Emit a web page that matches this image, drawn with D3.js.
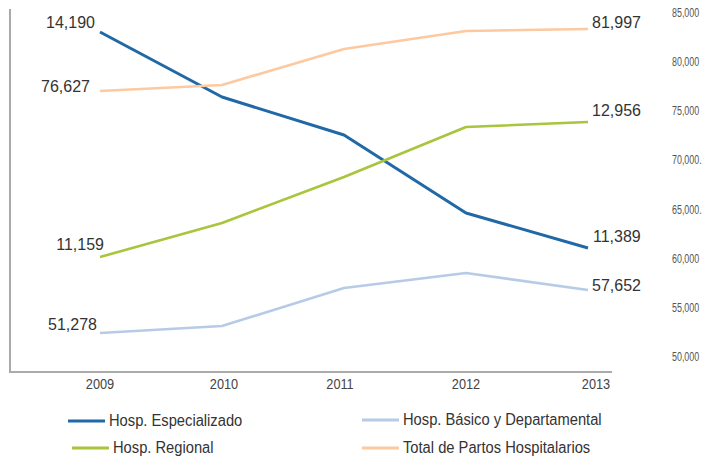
<!DOCTYPE html>
<html><head><meta charset="utf-8">
<script src="https://cdn.jsdelivr.net/npm/d3@7"></script>
<style>
html,body{margin:0;padding:0;background:#fff;}
svg{display:block;font-family:"Liberation Sans",Arial,Helvetica,sans-serif;}
</style></head>
<body><svg id="c" width="702" height="459"></svg>
<script>
// ---- data ----
const years = ["2009", "2010", "2011", "2012", "2013"];
const especializado = [14190, 13347, 12854, 11843, 11389];
const regional = [11159, 11612, 12224, 12889, 12956];
const basico = [51278, 52316, 57949, 60172, 57652];
const total = [76627, 77147, 80265, 81824, 81997];
const rightTickValues = [85000, 80000, 75000, 70000, 65000, 60000, 55000, 50000];
const rightTickLabels = ["85,000", "80,000", "75,000", "70,000.", "65,000.", "60,000", "55,000", "50,000"];
const seriesNames = ["Hosp. Especializado", "Hosp. Regional", "Hosp. Básico y Departamental", "Total de Partos Hospitalarios"];

// ---- layout / style ----
const svg = d3.select("#c");
const fmt = d3.format(",");
const x = d3.scalePoint().domain(years).range([100, 588]);
const yRight = d3.scaleLinear().domain([50000, 85000]).range([357, 13]);

const series = [
  {name: seriesNames[0], values: especializado, color: "#2069a6", width: 3,   range: [32, 248],  lab: [[-5, -10], [5, -12]]},
  {name: seriesNames[1], values: regional,      color: "#a9c43d", width: 2.6, range: [257, 122], lab: [[4, -13], [4, -12]]},
  {name: seriesNames[2], values: basico,        color: "#b7cbe6", width: 2.6, range: [333, 290], lab: [[-3, -9], [4, -5]]},
  {name: seriesNames[3], values: total,         color: "#fdc9a0", width: 2.6, range: [91, 29],   lab: [[-10, -5], [4, -7]]}
];
series.forEach(s => {
  s.y = d3.scaleLinear().domain([s.values[0], s.values[s.values.length - 1]]).range(s.range);
});

// axes frame
const axisColor = "#aaaaaa";
svg.append("line").attr("x1", 10).attr("x2", 10).attr("y1", 9).attr("y2", 372)
  .attr("stroke", axisColor).attr("stroke-width", 2);
svg.append("line").attr("x1", 9).attr("x2", 612).attr("y1", 372).attr("y2", 372)
  .attr("stroke", axisColor).attr("stroke-width", 2);

// year labels (condensed)
const yearShift = [0, 2, -4, 0, 8];
svg.append("g").selectAll("text").data(years).join("text")
  .attr("transform", (d, i) => `translate(${x(d) + yearShift[i]},389) scale(0.88,1)`)
  .attr("text-anchor", "middle")
  .attr("font-size", 14.5)
  .attr("fill", "#444")
  .text(d => d);

// right tick labels (condensed)
svg.append("g").selectAll("text").data(rightTickValues).join("text")
  .attr("transform", d => `translate(672,${yRight(d) + 4}) scale(0.66,1)`)
  .attr("font-size", 13.5)
  .attr("fill", "#555")
  .text((d, i) => rightTickLabels[i]);

// lines
const line = s => d3.line().x((d, i) => x(years[i])).y(d => s.y(d));
series.forEach(s => {
  svg.append("path").datum(s.values)
    .attr("d", line(s))
    .attr("fill", "none")
    .attr("stroke", s.color)
    .attr("stroke-width", s.width)
    .attr("stroke-linejoin", "round");
});

// end labels
series.forEach(s => {
  const n = s.values.length;
  svg.append("text")
    .attr("x", x(years[0]) + s.lab[0][0])
    .attr("y", s.y(s.values[0]) + s.lab[0][1] + 6)
    .attr("text-anchor", "end")
    .attr("font-size", 16)
    .attr("fill", "#333")
    .text(fmt(s.values[0]));
  svg.append("text")
    .attr("x", x(years[n - 1]) + s.lab[1][0])
    .attr("y", s.y(s.values[n - 1]) + s.lab[1][1] + 6)
    .attr("text-anchor", "start")
    .attr("font-size", 16)
    .attr("fill", "#333")
    .text(fmt(s.values[n - 1]));
});

// legend
const legendPos = [[68, 421], [72, 448], [362, 420], [362, 448]];
const lg = svg.append("g");
series.forEach((s, i) => {
  const [lx, ly] = legendPos[i];
  lg.append("line").attr("x1", lx).attr("x2", lx + 37).attr("y1", ly).attr("y2", ly)
    .attr("stroke", s.color).attr("stroke-width", 3);
  lg.append("text")
    .attr("transform", `translate(${lx + 41},${ly + 5}) scale(0.92,1)`)
    .attr("font-size", 16).attr("fill", "#333")
    .text(s.name);
});
</script>
</body></html>
